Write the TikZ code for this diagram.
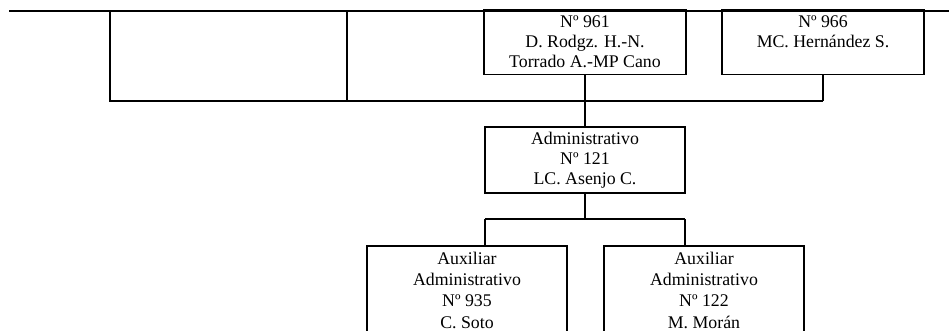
\documentclass[tikz,border=0pt]{standalone}
\usepackage{fontspec}
\setmainfont{Liberation Serif}
\begin{document}
\begin{tikzpicture}[x=1pt,y=-1pt,
  line/.style={draw=black,line width=1.8pt},
  boxtop/.style={line,rectangle,inner sep=0pt,align=center,minimum width=202pt,minimum height=65pt,
    font=\fontsize{17.8}{20}\selectfont},
  boxmid/.style={line,rectangle,inner sep=0pt,align=center,minimum width=200pt,minimum height=66pt,
    font=\fontsize{17.8}{20}\selectfont},
  boxlow/.style={line,rectangle,inner sep=0pt,align=center,minimum width=200pt,minimum height=88pt,
    font=\fontsize{17.8}{21.3}\selectfont}]
\useasboundingbox (0,0) rectangle (949,331);
\clip (0,0) rectangle (949,331);
% top line and stubs
\coordinate (tl) at (9,11);
\coordinate (tr) at (955,11);
\coordinate (a1) at (110,11);
\coordinate (a2) at (110,101);
\coordinate (b1) at (347,11);
\coordinate (b2) at (347,101);
\coordinate (j4) at (823,101);
% boxes
\node[boxtop] (n961) at (585,42) {Nº 961\\D. Rodgz. H.-N.\\Torrado A.-MP Cano};
\node[boxtop] (n966) at (823,42) {Nº 966\\MC. Hernández S.\\\phantom{X}};
\node[boxmid] (adm) at (585,160) {Administrativo\\Nº 121\\LC. Asenjo C.};
\node[boxlow] (aux1) at (467,290) {Auxiliar\\Administrativo\\Nº 935\\C. Soto};
\node[boxlow] (aux2) at (704,290) {Auxiliar\\Administrativo\\Nº 122\\M. Morán};
% connectors
\draw[line] (tl) -- (tr);
\draw[line] (a1) -- (a2) -- (j4);
\draw[line] (b1) -- (b2);
\draw[line] (n966.south) -- (j4);
\draw[line] (n961.south) -- (adm.north);
\coordinate (k) at (585,219);
\coordinate (kl) at (485,219);
\coordinate (kr) at (685,219);
\draw[line] (adm.south) -- (k);
\draw[line] (kl) -- (kr);
\draw[line] (kl) -- (kl |- aux1.north);
\draw[line] (kr) -- (kr |- aux2.north);
\end{tikzpicture}
\end{document}
